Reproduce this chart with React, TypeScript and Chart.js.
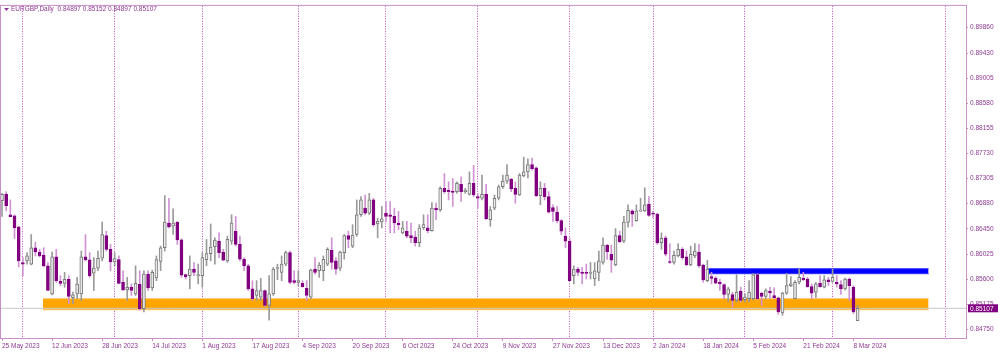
import React, { useEffect, useRef } from "react";
import { Chart, registerables } from "chart.js";

Chart.register(...registerables);

const symbolTitle = "EURGBP,Daily";

// Daily OHLC bars, 25 May 2023 (index 0) … 11 Mar 2024 (index 205)
const opens = [
  0.86931, 0.87037, 0.86691, 0.86674, 0.86485, 0.85882, 0.8591, 0.85854, 0.86133, 0.8606,
  0.8601, 0.85826, 0.85352, 0.85977, 0.85564, 0.8553, 0.85597, 0.85285, 0.85352, 0.85352,
  0.85977, 0.85927, 0.85703, 0.85787, 0.85955, 0.86339, 0.86105, 0.85893, 0.85932, 0.85547,
  0.85419, 0.85463, 0.85352, 0.85519, 0.85101, 0.85687, 0.85452, 0.8562, 0.85899, 0.86133,
  0.86551, 0.86496, 0.86563, 0.86267, 0.85676, 0.85659, 0.8577, 0.85659, 0.85659, 0.85932,
  0.86033, 0.8615, 0.86245, 0.8606, 0.8591, 0.86245, 0.86412, 0.86189, 0.85938, 0.85826,
  0.85436, 0.85324, 0.85296, 0.85408, 0.85157, 0.85352, 0.85781, 0.85715, 0.85854, 0.86049,
  0.85575, 0.85547, 0.8553, 0.85447, 0.85296, 0.8577, 0.85743, 0.85743, 0.85854, 0.86088,
  0.8591, 0.85787, 0.86049, 0.86339, 0.86161, 0.86356, 0.86691, 0.86803, 0.86719, 0.86942,
  0.86535, 0.86568, 0.86719, 0.86691, 0.86663, 0.86551, 0.86384, 0.86412, 0.86339, 0.86312,
  0.86217, 0.86468, 0.86468, 0.86423, 0.86803, 0.86775, 0.87138, 0.8711, 0.87093, 0.87082,
  0.87205, 0.87082, 0.87037, 0.87222, 0.86998, 0.8697, 0.87037, 0.86608, 0.86803, 0.8697,
  0.87166, 0.87261, 0.87294, 0.87138, 0.87026, 0.8735, 0.87417, 0.8754, 0.87484, 0.87015,
  0.87138, 0.86998, 0.86814, 0.86736, 0.86591, 0.86329, 0.86245, 0.85659, 0.85771, 0.85715,
  0.85704, 0.85698, 0.85603, 0.85715, 0.85882, 0.86172, 0.86022, 0.85843, 0.8634, 0.86245,
  0.86563, 0.86758, 0.86591, 0.86753, 0.86758, 0.8687, 0.86719, 0.86703, 0.86217, 0.86301,
  0.85899, 0.85882, 0.85994, 0.86106, 0.85977, 0.85843, 0.85994, 0.86061, 0.85838, 0.85576,
  0.85643, 0.8562, 0.85548, 0.85509, 0.85341, 0.85341, 0.85241, 0.85397, 0.85252, 0.85269,
  0.85269, 0.85676, 0.85364, 0.85308, 0.85397, 0.85324, 0.85285, 0.85029, 0.85364, 0.85486,
  0.85269, 0.85548, 0.85614, 0.85603, 0.85475, 0.8538, 0.85531, 0.85464, 0.85587, 0.85564,
  0.85548, 0.85509, 0.85436, 0.85603, 0.85464, 0.84897,
];
const highs = [
  0.87054, 0.87082, 0.86942, 0.86691, 0.86485, 0.85966, 0.86049, 0.86356, 0.86228, 0.86105,
  0.86133, 0.85882, 0.8606, 0.86105, 0.85659, 0.85715, 0.85659, 0.8538, 0.85631, 0.86077,
  0.86356, 0.86049, 0.85966, 0.86077, 0.86568, 0.86412, 0.86189, 0.86049, 0.85994, 0.85743,
  0.85631, 0.85519, 0.85826, 0.85743, 0.85743, 0.85743, 0.85754, 0.85994, 0.86161, 0.87015,
  0.8697, 0.86791, 0.86579, 0.86284, 0.85687, 0.85994, 0.85882, 0.85854, 0.86049, 0.86273,
  0.86535, 0.863, 0.86384, 0.86105, 0.86328, 0.86691, 0.86663, 0.86328, 0.85966, 0.85854,
  0.85575, 0.85575, 0.85614, 0.85419, 0.85659, 0.85798, 0.85854, 0.85994, 0.86077, 0.86077,
  0.85743, 0.85743, 0.85575, 0.85575, 0.8577, 0.85966, 0.85882, 0.85994, 0.86133, 0.863,
  0.85966, 0.86077, 0.86356, 0.86412, 0.86524, 0.86942, 0.86998, 0.87026, 0.87054, 0.8697,
  0.86635, 0.86831, 0.86914, 0.86914, 0.86803, 0.86747, 0.86579, 0.86579, 0.86551, 0.86412,
  0.86524, 0.86691, 0.86691, 0.86898, 0.86887, 0.87166, 0.87389, 0.87249, 0.87305, 0.87249,
  0.87333, 0.87138, 0.87417, 0.87528, 0.87054, 0.87361, 0.87205, 0.86831, 0.87026, 0.87194,
  0.87361, 0.8754, 0.87305, 0.87249, 0.87389, 0.87668, 0.8764, 0.87651, 0.875, 0.87249,
  0.87222, 0.87082, 0.86859, 0.86831, 0.86608, 0.86468, 0.86301, 0.85826, 0.85799, 0.85799,
  0.85854, 0.85882, 0.85882, 0.86078, 0.86301, 0.86189, 0.86178, 0.86457, 0.86412, 0.86664,
  0.86859, 0.86775, 0.86859, 0.86971, 0.87149, 0.86998, 0.86747, 0.86719, 0.86385, 0.86329,
  0.86201, 0.86078, 0.86201, 0.86134, 0.86078, 0.86161, 0.86201, 0.86189, 0.85855, 0.85921,
  0.85715, 0.85643, 0.85603, 0.8552, 0.85464, 0.8538, 0.85676, 0.85464, 0.85352, 0.85576,
  0.85698, 0.85687, 0.8538, 0.85436, 0.85464, 0.85453, 0.85297, 0.8538, 0.85698, 0.85643,
  0.85576, 0.85771, 0.85715, 0.85631, 0.8552, 0.85548, 0.85659, 0.85659, 0.85631, 0.85771,
  0.85659, 0.85576, 0.8562, 0.8562, 0.85492, 0.85152,
];
const lows = [
  0.86663, 0.86758, 0.86657, 0.86289, 0.85809, 0.85659, 0.85854, 0.85843, 0.85994, 0.85977,
  0.85809, 0.85408, 0.85335, 0.85547, 0.85491, 0.85463, 0.85185, 0.85185, 0.85268, 0.8524,
  0.8591, 0.85631, 0.85408, 0.85743, 0.8591, 0.86077, 0.85743, 0.85826, 0.85519, 0.85408,
  0.8524, 0.85324, 0.85324, 0.85073, 0.85045, 0.85408, 0.85408, 0.85575, 0.85743, 0.86077,
  0.86468, 0.86356, 0.86189, 0.85631, 0.85603, 0.85436, 0.85659, 0.85519, 0.85463, 0.85826,
  0.8591, 0.85854, 0.85966, 0.8591, 0.85882, 0.86189, 0.86161, 0.8591, 0.85743, 0.85408,
  0.8524, 0.8524, 0.8524, 0.8514, 0.84905, 0.85324, 0.85592, 0.85575, 0.85826, 0.85519,
  0.85519, 0.85491, 0.85463, 0.8524, 0.85268, 0.85687, 0.85631, 0.85575, 0.85826, 0.8577,
  0.85687, 0.85743, 0.85938, 0.86133, 0.86133, 0.86328, 0.86663, 0.86691, 0.86691, 0.86496,
  0.863, 0.86468, 0.86579, 0.86384, 0.86384, 0.8644, 0.86367, 0.863, 0.86217, 0.86161,
  0.8615, 0.8644, 0.86384, 0.86412, 0.86608, 0.86747, 0.87054, 0.86943, 0.86831, 0.87054,
  0.86915, 0.87054, 0.87026, 0.86998, 0.86803, 0.86943, 0.86608, 0.86496, 0.86775, 0.86943,
  0.87138, 0.87222, 0.87082, 0.86887, 0.87015, 0.87333, 0.87316, 0.87445, 0.86998, 0.86859,
  0.86943, 0.86719, 0.8658, 0.86552, 0.86357, 0.86133, 0.85575, 0.8552, 0.85659, 0.8552,
  0.85603, 0.85603, 0.85492, 0.85575, 0.85854, 0.85938, 0.85715, 0.85826, 0.86217, 0.86217,
  0.86479, 0.86496, 0.8658, 0.86747, 0.86747, 0.86664, 0.86636, 0.86189, 0.86106, 0.85994,
  0.85866, 0.85855, 0.85977, 0.85938, 0.85827, 0.85827, 0.85966, 0.85799, 0.85548, 0.85559,
  0.8552, 0.8552, 0.85408, 0.85269, 0.85213, 0.85129, 0.85213, 0.85213, 0.85213, 0.85213,
  0.85252, 0.85258, 0.85157, 0.85269, 0.85269, 0.85269, 0.85006, 0.8499, 0.85341, 0.85475,
  0.85269, 0.8552, 0.85576, 0.85464, 0.85269, 0.85285, 0.85464, 0.85453, 0.85492, 0.85548,
  0.85464, 0.85341, 0.85419, 0.85241, 0.85018, 0.84897,
];
const closes = [
  0.87037, 0.86847, 0.86657, 0.86468, 0.8591, 0.85854, 0.85994, 0.86133, 0.8606, 0.85994,
  0.85826, 0.85408, 0.85977, 0.85575, 0.8553, 0.85597, 0.85307, 0.85335, 0.85519, 0.85977,
  0.85927, 0.85659, 0.85787, 0.85955, 0.86356, 0.86105, 0.85893, 0.85949, 0.8553, 0.85419,
  0.85463, 0.85408, 0.8553, 0.85101, 0.85687, 0.85452, 0.85715, 0.85932, 0.86133, 0.86568,
  0.86485, 0.86551, 0.86267, 0.8567, 0.85642, 0.8577, 0.85715, 0.8567, 0.85966, 0.86033,
  0.86144, 0.86261, 0.86049, 0.85921, 0.86273, 0.86551, 0.86189, 0.85938, 0.85826, 0.85436,
  0.85268, 0.85408, 0.85408, 0.85157, 0.85352, 0.8577, 0.85793, 0.85854, 0.86049, 0.85547,
  0.85547, 0.85575, 0.85475, 0.85324, 0.85754, 0.85715, 0.85837, 0.85938, 0.86105, 0.85882,
  0.8577, 0.8606, 0.86339, 0.86273, 0.86345, 0.86691, 0.86942, 0.86719, 0.86942, 0.86524,
  0.86579, 0.86624, 0.86663, 0.86663, 0.86551, 0.86524, 0.86468, 0.86328, 0.863, 0.86217,
  0.86468, 0.86524, 0.86423, 0.86803, 0.86775, 0.87138, 0.87082, 0.87082, 0.87071, 0.87222,
  0.87082, 0.8711, 0.87222, 0.87026, 0.8697, 0.87037, 0.86624, 0.86775, 0.8697, 0.87166,
  0.87261, 0.87361, 0.87127, 0.87037, 0.87361, 0.87417, 0.8754, 0.87473, 0.87015, 0.87138,
  0.86998, 0.86736, 0.86747, 0.86591, 0.86412, 0.86245, 0.85575, 0.85771, 0.85715, 0.85698,
  0.85698, 0.85715, 0.85743, 0.8591, 0.86178, 0.86066, 0.85921, 0.8634, 0.86234, 0.86569,
  0.86764, 0.86703, 0.86758, 0.86764, 0.86859, 0.8668, 0.86703, 0.86217, 0.8629, 0.86022,
  0.85882, 0.86005, 0.86106, 0.85966, 0.85843, 0.86022, 0.86078, 0.85827, 0.85587, 0.85771,
  0.85614, 0.85531, 0.8552, 0.85341, 0.85436, 0.85241, 0.8538, 0.85241, 0.85297, 0.8538,
  0.85676, 0.85269, 0.85308, 0.85408, 0.85369, 0.85285, 0.85045, 0.85364, 0.85492, 0.8552,
  0.85548, 0.85631, 0.85592, 0.85475, 0.85364, 0.8552, 0.85475, 0.85587, 0.85559, 0.85631,
  0.8552, 0.85436, 0.85603, 0.85492, 0.85045, 0.85107,
];

const xTickIndex = [0, 12, 24, 36, 48, 60, 72, 84, 96, 108, 120, 132, 144, 156, 168, 180, 192, 204];
const xTickLabels = [
  "25 May 2023", "12 Jun 2023", "28 Jun 2023", "14 Jul 2023", "1 Aug 2023", "17 Aug 2023",
  "4 Sep 2023", "20 Sep 2023", "6 Oct 2023", "24 Oct 2023", "9 Nov 2023", "27 Nov 2023",
  "13 Dec 2023", "2 Jan 2024", "18 Jan 2024", "5 Feb 2024", "21 Feb 2024", "8 Mar 2024",
];
const monthSeparators = [5, 27, 48, 71, 92, 114, 136, 156, 178, 199, 226];
const yTicks = [
  0.8986, 0.8943, 0.89005, 0.8858, 0.88155, 0.8773, 0.87305, 0.8688, 0.8645, 0.86025, 0.856,
  0.85175, 0.8475,
];
const supportBand = [0.85082, 0.8527];
const supportSpan = [9.8, 222];
const resistanceBand = [0.85693, 0.85777];
const resistanceSpan = [169.2, 222];
const xRange = [-0.24, 230.97];
const yRange = [0.84604, 0.90228];

const textColor = "#8e3a92";
const frameColor = "#c98fc9";
const sepColor = "#c050c0";
const bullFill = "#e8e8e8";
const bullEdge = "#7a7a7a";
const bullWick = "#9a9a9a";
const bearColor = "#800080";
const bearWick = "#cf93d2";
const FONT = "Liberation Sans";

export default function App() {
  const ref = useRef<HTMLCanvasElement>(null);

  useEffect(() => {
    const idx = opens.map((_, i) => i);
    const bull = idx.map((i) => closes[i] >= opens[i]);
    const last = idx.length - 1;
    const lastClose = closes[last];
    const title = `${symbolTitle}  ${opens[last].toFixed(5)} ${highs[last].toFixed(5)} ${lows[last].toFixed(5)} ${closes[last].toFixed(5)}`;

    const decor = {
      id: "decor",
      afterDraw(chart: any) {
        const { ctx, chartArea: a, scales } = chart;
        ctx.save();
        ctx.strokeStyle = frameColor;
        ctx.lineWidth = 1;
        ctx.strokeRect(a.left - 0.5, a.top - 0.5, a.right - a.left + 1, a.bottom - a.top + 1);
        // title
        ctx.fillStyle = textColor;
        ctx.beginPath();
        ctx.moveTo(a.left + 3, a.top + 2);
        ctx.lineTo(a.left + 8, a.top + 2);
        ctx.lineTo(a.left + 5.5, a.top + 5);
        ctx.closePath();
        ctx.fill();
        ctx.font = `6.5px "${FONT}"`;
        ctx.textBaseline = "middle";
        ctx.textAlign = "left";
        ctx.fillText(title, a.left + 10, a.top + 3.5);
        // current price label
        const y = scales.y.getPixelForValue(lastClose);
        ctx.fillStyle = "#800080";
        ctx.fillRect(a.right + 2, y - 4, 30, 8);
        ctx.fillStyle = "#ffffff";
        ctx.fillText(lastClose.toFixed(5), a.right + 4, y + 0.5);
        ctx.restore();
      },
    };

    const bandLine = (span: number[], v: number) => [
      { x: span[0], y: v },
      { x: span[1], y: v },
    ];

    const chart = new Chart(ref.current as HTMLCanvasElement, {
      type: "bar",
      data: {
        datasets: [
          {
            type: "bar",
            label: "bodies",
            data: idx.map((i) => ({ x: i, y: [opens[i], closes[i]] })) as any,
            backgroundColor: idx.map((i) => (bull[i] ? bullFill : bearColor)),
            borderColor: idx.map((i) => (bull[i] ? bullEdge : bearColor)),
            borderWidth: 1,
            borderSkipped: false,
            barThickness: 3,
            minBarLength: 1,
            grouped: false,
            order: 0,
            xAxisID: "x",
            yAxisID: "y",
          } as any,
          {
            type: "bar",
            label: "wicks",
            data: idx.map((i) => ({ x: i, y: [lows[i], highs[i]] })) as any,
            backgroundColor: idx.map((i) => (bull[i] ? bullWick : bearWick)),
            borderWidth: 0,
            barThickness: 1,
            grouped: false,
            order: 1,
            xAxisID: "x",
            yAxisID: "y",
          } as any,
          {
            type: "line",
            label: "bid",
            data: bandLine(xRange, lastClose),
            borderColor: "#c8c8c8",
            borderWidth: 1,
            pointRadius: 0,
            fill: false,
            order: 2,
            xAxisID: "x",
            yAxisID: "y",
          } as any,
          {
            type: "line",
            label: "supportLow",
            data: bandLine(supportSpan, supportBand[0]),
            borderColor: "#ffc46a",
            borderWidth: 1,
            pointRadius: 0,
            fill: false,
            order: 3,
            xAxisID: "x",
            yAxisID: "y",
          } as any,
          {
            type: "line",
            label: "supportHigh",
            data: bandLine(supportSpan, supportBand[1]),
            borderColor: "#ffc46a",
            borderWidth: 1,
            pointRadius: 0,
            fill: "-1",
            backgroundColor: "#ffa500",
            order: 3,
            xAxisID: "x",
            yAxisID: "y",
          } as any,
          {
            type: "line",
            label: "resistLow",
            data: bandLine(resistanceSpan, resistanceBand[0]),
            borderColor: "#3030ff",
            borderWidth: 1,
            pointRadius: 0,
            fill: false,
            order: 3,
            xAxisID: "x",
            yAxisID: "y",
          } as any,
          {
            type: "line",
            label: "resistHigh",
            data: bandLine(resistanceSpan, resistanceBand[1]),
            borderColor: "#3030ff",
            borderWidth: 1,
            pointRadius: 0,
            fill: "-1",
            backgroundColor: "#0000ff",
            order: 3,
            xAxisID: "x",
            yAxisID: "y",
          } as any,
        ],
      },
      options: {
        responsive: false,
        maintainAspectRatio: false,
        animation: false,
        devicePixelRatio: 1,
        events: [],
        layout: { padding: { left: 1, top: 2, right: 0, bottom: 0 } },
        plugins: { legend: { display: false }, tooltip: { enabled: false } },
        scales: {
          x: {
            type: "linear",
            position: "bottom",
            min: xRange[0],
            max: xRange[1],
            offset: false,
            afterBuildTicks: (s: any) => {
              s.ticks = xTickIndex.map((v) => ({ value: v }));
            },
            afterFit: (s: any) => {
              s.height = 14;
            },
            ticks: {
              color: textColor,
              font: { family: FONT, size: 6.5 },
              align: "start",
              autoSkip: false,
              maxRotation: 0,
              minRotation: 0,
              padding: 1,
              callback: (v: any) => xTickLabels[xTickIndex.indexOf(Number(v))] ?? "",
            },
            grid: { drawOnChartArea: false, drawTicks: true, tickLength: 3, color: frameColor, offset: false },
            border: { display: false },
          },
          xs: {
            type: "linear",
            position: "bottom",
            min: xRange[0],
            max: xRange[1],
            offset: false,
            afterBuildTicks: (s: any) => {
              s.ticks = monthSeparators.map((v) => ({ value: v }));
            },
            afterFit: (s: any) => {
              s.height = 0;
            },
            ticks: { display: false },
            grid: { drawOnChartArea: true, drawTicks: false, color: sepColor, lineWidth: 1, offset: false },
            border: { display: false, dash: [1, 1.5] },
          },
          y: {
            type: "linear",
            position: "right",
            min: yRange[0],
            max: yRange[1],
            afterBuildTicks: (s: any) => {
              s.ticks = yTicks.map((v) => ({ value: v }));
            },
            afterFit: (s: any) => {
              s.width = 34;
            },
            ticks: {
              color: textColor,
              font: { family: FONT, size: 6.5 },
              padding: 2,
              autoSkip: false,
              callback: (v: any) => Number(v).toFixed(5),
            },
            grid: { drawOnChartArea: false, drawTicks: true, tickLength: 2, color: frameColor },
            border: { display: false },
          },
        } as any,
      },
      plugins: [decor],
    } as any);

    return () => chart.destroy();
  }, []);

  return (
    <div style={{ position: "absolute", left: 0, top: 0, width: 1000, height: 352 }}>
      <canvas ref={ref} width={1000} height={352} style={{ display: "block", width: 1000, height: 352 }} />
    </div>
  );
}
